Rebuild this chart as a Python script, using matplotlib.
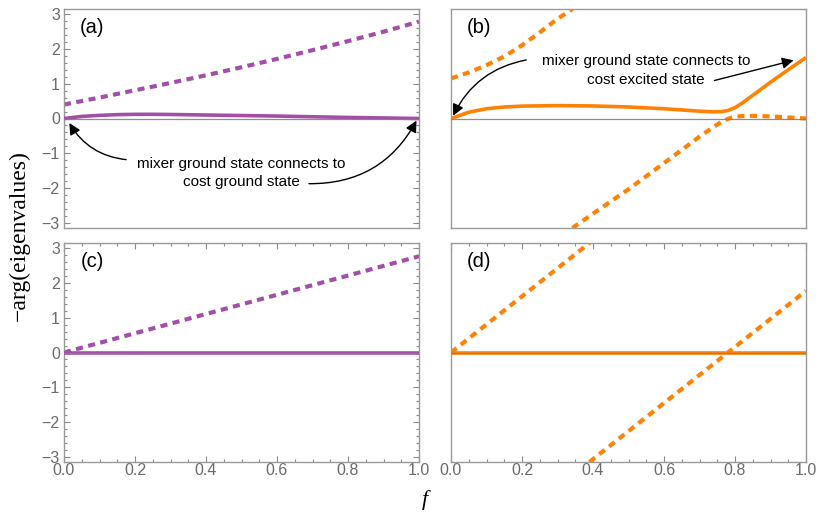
import numpy as np
import matplotlib
matplotlib.use("Agg")
import matplotlib.pyplot as plt
from matplotlib.ticker import MultipleLocator, FixedLocator

# ---------------- data ----------------
# panel (a)
a_dash_f = [0.0, 0.1, 0.2, 0.3, 0.4, 0.5, 0.6, 0.7, 0.8, 0.9, 1.0]
a_dash_y = [0.40, 0.60, 0.81, 1.02, 1.24, 1.47, 1.71, 1.96, 2.22, 2.49, 2.78]
a_solid_f = [0.0, 0.05, 0.1, 0.15, 0.2, 0.25, 0.3, 0.4, 0.5, 0.6, 0.7, 0.8, 0.9, 1.0]
a_solid_y = [0.0, 0.06, 0.09, 0.11, 0.12, 0.12, 0.115, 0.10, 0.085, 0.07, 0.05, 0.03, 0.015, 0.0]

# panel (b)
b_dash1_f = [0.0, 0.05, 0.1, 0.15, 0.2, 0.25, 0.3, 0.342]
b_dash1_y = [1.15, 1.32, 1.53, 1.78, 2.10, 2.47, 2.86, 3.1416]
b_dash2_f = [0.342, 0.4, 0.5, 0.6, 0.7, 0.74, 0.76, 0.78, 0.80, 0.82, 0.85, 0.9, 0.95, 1.0]
b_dash2_y = [-3.1416, -2.73, -2.03, -1.28, -0.52, -0.24, -0.11, -0.01, 0.05, 0.07, 0.075, 0.06, 0.03, 0.0]
b_solid_f = [0.0, 0.05, 0.1, 0.15, 0.2, 0.3, 0.4, 0.5, 0.6, 0.7, 0.74, 0.76, 0.78, 0.80, 0.82, 0.84, 0.86, 0.9, 0.95, 1.0]
b_solid_y = [0.0, 0.18, 0.28, 0.33, 0.355, 0.37, 0.36, 0.33, 0.28, 0.21, 0.19, 0.195, 0.23, 0.31, 0.44, 0.59, 0.74, 1.04, 1.40, 1.75]

# panel (c)
c_dash_f = [0.0, 1.0]
c_dash_y = [0.0, 2.76]
c_solid_f = [0.0, 1.0]
c_solid_y = [0.0, 0.0]

# panel (d)
d_dash1_f = [0.0, 0.39]
d_dash1_y = [0.0, 3.1416]
d_dash2_f = [0.39, 1.0]
d_dash2_y = [-3.1416, 1.77]
d_solid_f = [0.0, 1.0]
d_solid_y = [0.0, 0.0]

x_ticks = [0.0, 0.2, 0.4, 0.6, 0.8, 1.0]
x_ticklabels = ["0.0", "0.2", "0.4", "0.6", "0.8", "1.0"]
y_ticks = [-3, -2, -1, 0, 1, 2, 3]
y_ticklabels = ["\u22123", "\u22122", "\u22121", "0", "1", "2", "3"]

panel_labels = ["(a)", "(b)", "(c)", "(d)"]
ann_a = "mixer ground state connects to\ncost ground state"
ann_b = "mixer ground state connects to\ncost excited state"
ylabel = "\u2212arg(eigenvalues)"
xlabel = "f"

# ---------------- style ----------------
PURPLE = "#A34FA8"
ORANGE = "#FF8205"
FRAME = "#999999"
TICKC = "#8a8a8a"
LABC = "#6a6a6a"

plt.rcParams["font.family"] = ["Liberation Sans", "DejaVu Sans"]

fig = plt.figure(figsize=(8.17, 5.14), dpi=100)

W, H = 817.0, 514.0
def rect(left, top, right, bottom):
    return [left / W, 1 - bottom / H, (right - left) / W, (bottom - top) / H]

axA = fig.add_axes(rect(64, 9, 419, 228))
axB = fig.add_axes(rect(451, 9, 806, 228))
axC = fig.add_axes(rect(64, 243, 419, 462))
axD = fig.add_axes(rect(451, 243, 806, 462))
axes = [axA, axB, axC, axD]

DASH_LW = 3.0
SOLID_LW = 2.6
dash_style = (0, (1.7, 1.3))

def draw(ax, color, dashes, solid):
    for f, y in dashes:
        ax.plot(f, y, color=color, lw=DASH_LW, linestyle=dash_style,
                dash_capstyle="butt", solid_capstyle="butt", zorder=2, clip_on=True)
    f, y = solid
    ax.plot(f, y, color=color, lw=SOLID_LW, solid_capstyle="butt", zorder=3)
    ax.axhline(0, color="#808080", lw=0.9, zorder=4, alpha=0.9)

draw(axA, PURPLE, [(a_dash_f, a_dash_y)], (a_solid_f, a_solid_y))
draw(axB, ORANGE, [(b_dash1_f, b_dash1_y), (b_dash2_f, b_dash2_y)], (b_solid_f, b_solid_y))
draw(axC, PURPLE, [(c_dash_f, c_dash_y)], (c_solid_f, c_solid_y))
draw(axD, ORANGE, [(d_dash1_f, d_dash1_y), (d_dash2_f, d_dash2_y)], (d_solid_f, d_solid_y))

for ax, lab in zip(axes, panel_labels):
    ax.set_xlim(0, 1)
    ax.set_ylim(-np.pi, np.pi)
    for s in ax.spines.values():
        s.set_color(FRAME)
        s.set_linewidth(1.0)
    ax.xaxis.set_major_locator(FixedLocator(x_ticks))
    ax.xaxis.set_minor_locator(MultipleLocator(0.05))
    ax.yaxis.set_major_locator(FixedLocator(y_ticks))
    ax.yaxis.set_minor_locator(MultipleLocator(0.2))
    ax.tick_params(which="both", direction="in", color=TICKC, labelcolor=LABC,
                   labelsize=11.5, width=0.8)
    ax.tick_params(which="major", length=4)
    ax.tick_params(which="minor", length=2.2)
    ax.text(0.08, 0.915, lab, transform=ax.transAxes, fontsize=14.5,
            ha="center", va="center", color="black")

# tick visibility per panel
axA.tick_params(axis="x", which="both", bottom=False, top=False, labelbottom=False)
axA.tick_params(axis="y", which="both", left=True, right=True, labelleft=True)
axA.set_yticklabels(y_ticklabels)

axB.tick_params(axis="x", which="both", bottom=False, top=False, labelbottom=False)
axB.tick_params(axis="y", which="both", left=False, right=False, labelleft=False)

axC.tick_params(axis="x", which="both", bottom=True, top=True, labelbottom=True)
axC.tick_params(axis="y", which="both", left=True, right=True, labelleft=True)
axC.set_yticklabels(y_ticklabels)
axC.set_xticklabels(x_ticklabels)

axD.tick_params(axis="x", which="both", bottom=True, top=True, labelbottom=True)
axD.tick_params(axis="y", which="both", left=False, right=False, labelleft=False)
axD.set_xticklabels(x_ticklabels)

for ax in axes:
    ax.tick_params(axis="x", pad=1)
    ax.tick_params(axis="y", pad=3)

# annotations
arrow_kw = dict(arrowstyle="-|>", color="black", lw=1.0, mutation_scale=17,
                shrinkA=0, shrinkB=0)
axA.text(0.50, -1.57, ann_a, ha="center", va="center", fontsize=11, linespacing=1.4)
axA.annotate("", xy=(0.015, -0.13), xytext=(0.175, -1.18),
             arrowprops=dict(connectionstyle="arc3,rad=-0.25", **arrow_kw))
axA.annotate("", xy=(0.993, -0.06), xytext=(0.69, -1.87),
             arrowprops=dict(connectionstyle="arc3,rad=0.3", **arrow_kw))

axB.text(0.55, 1.38, ann_b, ha="center", va="center", fontsize=11, linespacing=1.4)
axB.annotate("", xy=(0.006, 0.08), xytext=(0.212, 1.68),
             arrowprops=dict(connectionstyle="arc3,rad=0.25", **arrow_kw))
axB.annotate("", xy=(0.965, 1.67), xytext=(0.742, 1.09),
             arrowprops=dict(connectionstyle="arc3,rad=0.0", **arrow_kw))

fig.text(19 / W, 1 - 236 / H, ylabel, rotation=90, ha="center", va="center",
         fontsize=17, family=["Liberation Serif", "DejaVu Serif"])
fig.text(425 / W, 1 - 500 / H, xlabel, ha="center", va="center",
         fontsize=16, style="italic", family=["Liberation Serif", "DejaVu Serif"])

fig.savefig("out.png", dpi=100)
